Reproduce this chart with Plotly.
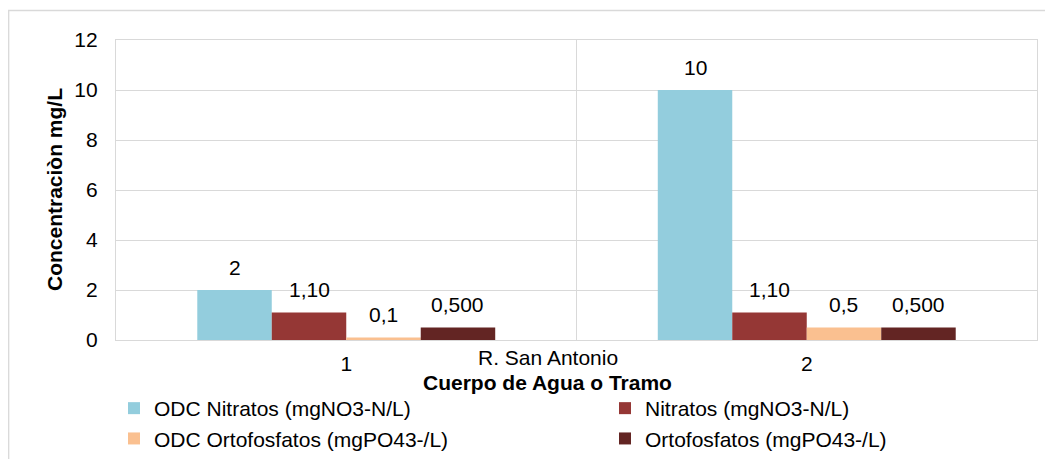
import plotly.graph_objects as go

categories = ["1", "2"]
series_names = [
    "ODC Nitratos (mgNO3-N/L)",
    "Nitratos (mgNO3-N/L)",
    "ODC Ortofosfatos (mgPO43-/L)",
    "Ortofosfatos (mgPO43-/L)",
]
odc_nitratos = [2, 10]
nitratos = [1.10, 1.10]
odc_ortofosfatos = [0.1, 0.5]
ortofosfatos = [0.5, 0.5]

odc_nitratos_labels = ["2", "10"]
nitratos_labels = ["1,10", "1,10"]
odc_ortofosfatos_labels = ["0,1", "0,5"]
ortofosfatos_labels = ["0,500", "0,500"]

colors = ["#93CDDD", "#953735", "#FAC090", "#632523"]
values = [odc_nitratos, nitratos, odc_ortofosfatos, ortofosfatos]
labels = [odc_nitratos_labels, nitratos_labels, odc_ortofosfatos_labels, ortofosfatos_labels]
legend_ids = ["legend", "legend2", "legend", "legend2"]

FONT = "Liberation Sans, Arial, sans-serif"
FS = 21
BARGAP = 0.353
W, H = 1045, 451          # page has an 8px body margin
ML, MT, PW, PH = 108, 32, 921, 300

fig = go.Figure()
for i, (name, vals, col) in enumerate(zip(series_names, values, colors)):
    fig.add_trace(go.Bar(
        x=categories, y=vals, name=name, marker=dict(color=col, line=dict(width=0)),
        legend=legend_ids[i], legendgroup=f"g{i}",
    ))

# data labels as annotations positioned on grouped bars
n = len(series_names)
w = (1 - BARGAP) / n
annotations = []
for i in range(n):
    for ci in range(len(categories)):
        annotations.append(dict(
            x=ci + (i - (n - 1) / 2) * w, y=values[i][ci], xref="x", yref="y",
            text=labels[i][ci], showarrow=False, yanchor="middle", yshift=23,
            font=dict(family=FONT, size=FS, color="#000000"),
        ))

annotations.append(dict(
    x=(540 - ML) / PW, y=-0.0567, xref="paper", yref="paper",
    text="R. San Antonio", showarrow=False, yanchor="middle",
    font=dict(family=FONT, size=FS, color="#000000"),
))
annotations.append(dict(
    x=(539 - ML) / PW, y=-0.14, xref="paper", yref="paper",
    text="<b>Cuerpo de Agua o Tramo</b>", showarrow=False, yanchor="middle",
    font=dict(family=FONT, size=FS, color="#000000"),
))
annotations.append(dict(
    x=(46 - ML) / PW, y=0.5, xref="paper", yref="paper",
    text="<b>Concentraciòn mg/L</b>", showarrow=False, textangle=-90,
    xanchor="center", yanchor="middle",
    font=dict(family=FONT, size=FS, color="#000000"),
))

shapes = [
    dict(type="line", xref="x", yref="paper", x0=0.5, x1=0.5, y0=0, y1=1,
         line=dict(color="#D9D9D9", width=1)),
    dict(type="rect", xref="paper", yref="paper", x0=(0.7 - ML) / PW, x1=1.2,
         y0=-0.6, y1=(PH + MT - 2.5) / PH, line=dict(color="#D9D9D9", width=1.3)),
]

fig.update_layout(
    width=W, height=H,
    margin=dict(l=ML, r=W - ML - PW, t=MT, b=H - MT - PH, autoexpand=False),
    paper_bgcolor="white", plot_bgcolor="white",
    barmode="group", bargap=BARGAP, bargroupgap=0,
    font=dict(family=FONT, size=FS, color="#000000"),
    annotations=annotations, shapes=shapes,
    legend=dict(xref="container", yref="container", x=106 / W, y=1 - 380 / H,
                xanchor="left", yanchor="top", orientation="v", tracegroupgap=0,
                font=dict(family=FONT, size=FS, color="#000000"), bgcolor="rgba(0,0,0,0)"),
    legend2=dict(xref="container", yref="container", x=597 / W, y=1 - 380 / H,
                 xanchor="left", yanchor="top", orientation="v", tracegroupgap=0,
                 font=dict(family=FONT, size=FS, color="#000000"), bgcolor="rgba(0,0,0,0)"),
    xaxis=dict(type="category", showline=True, linecolor="#D9D9D9", linewidth=1.3, mirror=True,
               showgrid=False, ticks="", ticklabelstandoff=5,
               tickfont=dict(family=FONT, size=FS, color="#000000")),
    yaxis=dict(range=[0, 12], dtick=2, showline=True, linecolor="#D9D9D9", linewidth=1.3,
               mirror=True, gridcolor="#D9D9D9", gridwidth=1.3, zeroline=False, ticks="",
               ticklabelstandoff=13, tickfont=dict(family=FONT, size=FS, color="#000000")),
)

fig.write_html("out.html")
